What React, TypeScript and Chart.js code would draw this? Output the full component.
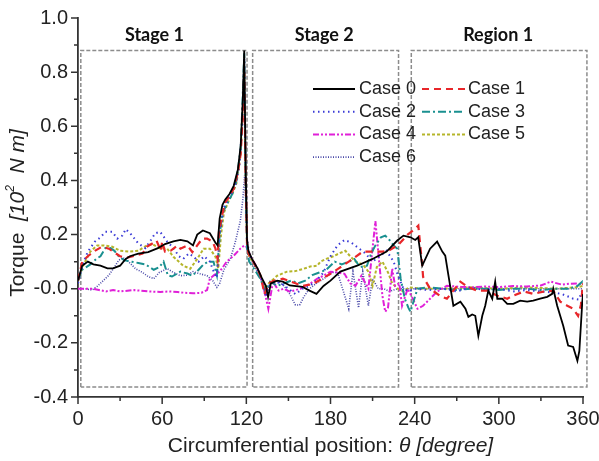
import React, { useEffect, useRef } from 'react';
import { Chart, registerables } from 'chart.js';

Chart.register(...registerables);

// ---------- data (theta in degrees, torque in 10^2 N m) ----------
const case0: [number, number][] = [
  [0, 0.03], [3, 0.085], [7, 0.1], [11, 0.09], [16, 0.085], [21, 0.075], [25, 0.075], [30, 0.085], [34, 0.11],
  [37, 0.12], [43, 0.13], [50, 0.135], [57, 0.15], [62, 0.165], [68, 0.175], [73, 0.18], [78, 0.175], [82, 0.16],
  [85, 0.2], [89, 0.215], [94, 0.205], [98, 0.17], [99.5, 0.16], [101, 0.26], [103, 0.31], [105, 0.33], [108, 0.35],
  [111, 0.38], [114, 0.44], [116, 0.53], [117.5, 0.7], [118.5, 0.88], [119.5, 0.45], [120.5, 0.18], [121.5, 0.14],
  [124, 0.11], [128, 0.075], [131, 0.04], [134, 0.01], [135.5, -0.03], [137.5, 0.02], [142, 0.03], [146, 0.026],
  [151, 0.012], [160, 0.007], [165, -0.007], [170, -0.019], [175, 0.01], [180, 0.03], [187, 0.063], [199, 0.085],
  [210, 0.11], [220, 0.137], [227.6, 0.178], [232, 0.196], [237, 0.19], [240.4, 0.18], [242.5, 0.19], [245.4, 0.085],
  [251, 0.148], [256, 0.174], [259.7, 0.137], [261.8, 0.122], [264.1, 0.048], [267.6, -0.063], [272.6, -0.048],
  [276.2, -0.074], [278.3, -0.104], [281, -0.095], [283.2, -0.1], [285.4, -0.174], [288.2, -0.1], [290.3, -0.063],
  [292.5, -0.007], [295.3, -0.037], [297.4, 0.026], [298.9, -0.037], [302.4, -0.037], [306, -0.056], [310.3, -0.056],
  [315.2, -0.044], [320.2, -0.048], [324.5, -0.044], [329.5, -0.037], [334.5, -0.03], [338, -0.019], [338.8, 0],
  [341.6, -0.063], [345.9, -0.137], [349.4, -0.21], [353, -0.215], [356, -0.266], [357.4, -0.23], [359.5, -0.048],
  [360, -0.02],
];

const case1: [number, number][] = [
  [0, 0.03], [3, 0.1], [7, 0.12], [12, 0.14], [17, 0.155], [22, 0.148], [25, 0.137], [30, 0.12], [35, 0.115],
  [39, 0.12], [46, 0.13], [49, 0.155], [53, 0.167], [56, 0.178], [59, 0.14], [60, 0.174], [62, 0.137], [66, 0.14],
  [71, 0.16], [73, 0.148], [76, 0.155], [78, 0.16], [81.5, 0.135], [85, 0.16], [88.6, 0.185], [92, 0.185], [96, 0.174],
  [98, 0.148], [99.5, 0.11], [100.5, 0.21], [102.6, 0.27], [105, 0.32], [108, 0.34], [111, 0.37], [114, 0.43],
  [116, 0.5], [117.5, 0.65], [118.5, 0.8], [119.5, 0.42], [120.5, 0.17], [121.5, 0.13], [125, 0.1], [130, 0.05],
  [133, -0.02], [136, 0.02], [140, 0.03], [146, 0.037], [150, 0.03], [155, 0.02], [160, 0.01], [165, 0.015],
  [170, 0.025], [175, 0.04], [180, 0.055], [185.6, 0.074], [193, 0.1], [203, 0.137], [210, 0.137], [217, 0.137],
  [221, 0.14], [228, 0.16], [235, 0.2], [240, 0.22], [242.6, 0.233], [245.4, 0.085], [246, 0.044], [251, 0],
  [258, -0.026], [263, -0.037], [272.6, 0.026], [277.5, 0.007], [284.6, -0.007], [291.8, -0.007], [299, -0.026],
  [306, -0.037], [310, -0.026], [318, -0.01], [324.5, -0.019], [331.7, -0.011], [338.8, -0.007], [343.8, -0.048],
  [348.8, -0.063], [353, -0.074], [356.5, -0.1], [358.5, -0.06], [360, 0.02],
];

const case2: [number, number][] = [
  [0, 0.02], [3, 0.085], [7, 0.137], [12, 0.174], [16, 0.19], [19.5, 0.21], [24.5, 0.21], [28, 0.185], [31.6, 0.196],
  [34, 0.22], [38, 0.2], [43, 0.167], [48, 0.15], [52, 0.18], [55, 0.205], [58.6, 0.21], [63.6, 0.174], [68, 0.15],
  [72, 0.12], [75, 0.11], [79, 0.13], [82, 0.12], [86, 0.1], [90, 0.12], [94, 0.1], [97, 0.06], [99, 0.04], [101, 0.2],
  [104, 0.3], [108, 0.34], [112, 0.38], [115, 0.45], [117, 0.6], [118.5, 0.85], [119.5, 0.45], [120.5, 0.18],
  [122, 0.13], [125, 0.1], [129, 0.06], [132, 0.02], [134, -0.03], [136, 0.01], [140, 0.025], [145, 0.02], [150, 0.0],
  [155, -0.02], [160, 0.0], [165, 0.01], [170, 0.03], [175, 0.06], [180, 0.12], [185, 0.16], [190, 0.18], [195, 0.17],
  [200, 0.15], [205, 0.13], [210, 0.1], [215, 0.12], [220, 0.14], [225, 0.1], [228, 0.05], [232, 0.0], [236, -0.01],
  [240, 0.0], [250, -0.005], [260, 0.0], [270, -0.01], [280, 0.005], [290, -0.005], [300, 0.0], [310, -0.01],
  [320, -0.005], [330, -0.01], [340, -0.015], [345, -0.02], [350, -0.03], [353, -0.037], [357, -0.04], [360, 0.0],
];

const case3: [number, number][] = [
  [0, 0.03], [3, 0.07], [8.8, 0.09], [13, 0.11], [16, 0.12], [19.5, 0.15], [23, 0.15], [26, 0.14], [29, 0.12],
  [33, 0.105], [38, 0.1], [43, 0.095], [48, 0.09], [54, 0.07], [58, 0.08], [61, 0.1], [64, 0.05], [67, 0.045],
  [73, 0.063], [78, 0.056], [81.5, 0.048], [86, 0.07], [89.5, 0.09], [93, 0.1], [96.6, 0.1], [99, 0.05], [101, 0.2],
  [103, 0.28], [106, 0.31], [110, 0.35], [113, 0.4], [116, 0.52], [117.5, 0.72], [118.5, 0.87], [119.5, 0.4],
  [120.5, 0.15], [122, 0.1], [126, 0.07], [130, 0.037], [133.6, -0.011], [137, 0.026], [142, 0.011], [147, 0.02],
  [152, 0.03], [157, 0.02], [162, 0.03], [167, 0.05], [172, 0.06], [177, 0.07], [183, 0.1], [188, 0.09], [193, 0.1],
  [197, 0.11], [201, 0.08], [206, 0.085], [209, 0.13], [212, 0.16], [216, 0.19], [219, 0.196], [222, 0.18],
  [225, 0.16], [227.6, 0.148], [230, 0.037], [233, -0.037], [235.5, -0.07], [237, -0.085], [239, -0.05], [242, 0.0],
  [250, 0.005], [260, 0.0], [270, -0.005], [280, 0.0], [290, 0.0], [300, -0.005], [310, 0.0], [320, 0.0],
  [330, -0.005], [340, 0.0], [350, 0.0], [356, 0.01], [359.5, 0.026], [360, 0.02],
];

const case4: [number, number][] = [
  [0, 0.0], [10, 0.0], [15, -0.005], [20, -0.01], [25, -0.005], [30, -0.01], [40, -0.005], [50, -0.01],
  [58.6, -0.012], [65, -0.01], [71, -0.012], [76, -0.015], [82, -0.017], [88, -0.015], [92, -0.005], [94, 0.037],
  [97, 0.05], [101, 0.063], [106, 0.1], [111, 0.122], [115.7, 0.148], [118.5, 0.16], [120, 0.155], [123, 0.12],
  [128, 0.074], [131, 0.03], [133.6, -0.026], [135.7, -0.074], [139, 0.026], [143, -0.007], [146.5, 0.0],
  [151, -0.011], [158.5, 0.0], [165.6, 0.019], [170.6, 0.037], [175, 0.048], [180, 0.063], [185, 0.06], [190, 0.055],
  [194, 0.02], [197.8, 0.011], [202, 0.048], [207, 0.0], [210, 0.15], [212, 0.25], [214, 0.137], [217, -0.026],
  [219, -0.085], [221, -0.07], [224, 0.074], [226, 0.011], [229, 0.02], [231, -0.063], [235, 0.0], [238, -0.03],
  [242, -0.074], [246, -0.063], [251, -0.037], [256, -0.011], [263, 0.011], [272.6, 0.007], [280, 0.005],
  [290, 0.008], [300, 0.006], [310, 0.01], [320, 0.008], [330, 0.012], [337, 0.026], [345, 0.015], [350, 0.018],
  [356, 0.019], [360, 0.015],
];

const case5: [number, number][] = [
  [0, 0.03], [4, 0.09], [8.8, 0.137], [13.7, 0.16], [18, 0.16], [24.5, 0.155], [30, 0.14], [36, 0.137], [43, 0.14],
  [49, 0.16], [53, 0.165], [58, 0.15], [63.6, 0.148], [68, 0.118], [75, 0.085], [80, 0.074], [85, 0.11],
  [89.5, 0.148], [94, 0.148], [98, 0.118], [100, 0.074], [102, 0.2], [104, 0.28], [107, 0.32], [110, 0.35],
  [113, 0.39], [116, 0.5], [117.5, 0.68], [118.5, 0.8], [119.5, 0.4], [120.5, 0.16], [122, 0.12], [126, 0.09],
  [130, 0.05], [133, 0.0], [136, 0.02], [142, 0.048], [149, 0.063], [155, 0.065], [161, 0.074], [165.6, 0.082],
  [170.6, 0.085], [172.8, 0.1], [177, 0.11], [182, 0.12], [186, 0.13], [190.6, 0.14], [194, 0.12], [198, 0.1],
  [203, 0.09], [207, 0.063], [210, 0.011], [213, 0.08], [217, 0.1], [221, 0.06], [224, 0.02], [228, 0.0],
  [232, -0.01], [236, 0.005], [245, 0.0], [260, 0.0], [280, 0.005], [300, 0.0], [320, 0.005], [340, 0.0],
  [355, 0.005], [360, 0.01],
];

const case6: [number, number][] = [
  [0, 0.0], [5, 0.0], [10, -0.005], [14, 0.01], [18, 0.03], [22, 0.05], [26.6, 0.085], [29, 0.105], [32, 0.115],
  [36, 0.1], [41, 0.074], [46, 0.06], [50, 0.045], [54, 0.037], [58, 0.06], [63.6, 0.074], [68, 0.06], [73, 0.048],
  [78, 0.05], [82, 0.063], [87, 0.055], [92, 0.048], [96, 0.03], [99, 0.005], [101, 0.02], [104, 0.07],
  [108.6, 0.11], [112, 0.17], [115.7, 0.25], [117.5, 0.33], [118.8, 0.42], [119.8, 0.3], [120.8, 0.16], [122, 0.12],
  [125, 0.09], [129, 0.05], [132, 0.02], [134, -0.02], [137, 0.02], [142, 0.03], [147, 0.01], [151, -0.02],
  [155, -0.06], [158, -0.06], [161, -0.03], [165, 0.0], [170, 0.02], [176, 0.04], [181, 0.06], [185, 0.06],
  [188, 0.01], [193, -0.074], [196, 0.063], [200, -0.07], [203, 0.063], [207, -0.063], [210, 0.037], [214, 0.0],
  [218, 0.0], [222, -0.01], [228, 0.0], [235, 0.0], [245, 0.0], [260, 0.0], [280, 0.0], [300, 0.0], [320, 0.0],
  [340, 0.0], [360, 0.0],
];

const seriesNames = ['Case 0', 'Case 1', 'Case 2', 'Case 3', 'Case 4', 'Case 5', 'Case 6'];
const seriesData = [case0, case1, case2, case3, case4, case5, case6];

// region boxes (data units)
const boxNames = ['Stage 1', 'Stage 2', 'Region 1'];
const boxLeft = [2, 124.5, 237.6];
const boxRight = [120.5, 228.5, 362.8];
const boxTop = 0.88;
const boxBottom = -0.363;
const boxLabelTheta = [54.5, 175.5, 299.5];
const boxLabelTorque = 0.935;

// axes
const xMin = 0, xMax = 360, xStep = 60;
const xMinorTicks = [30, 90, 150, 210, 270, 330];
const xMajorTicks = [0, 60, 120, 180, 240, 300, 360];
const yMin = -0.4, yMax = 1.0, yStep = 0.2;
const yMajorTicks = [-0.4, -0.2, 0, 0.2, 0.4, 0.6, 0.8, 1.0];
const yMinorTicks = [-0.3, -0.1, 0.1, 0.3, 0.5, 0.7, 0.9];

// ---------- styles ----------
const seriesStyle = [
  { color: '#000000', dash: [] as number[], width: 1.8 },
  { color: '#e8262a', dash: [7, 5], width: 2.2 },
  { color: '#3a3ad6', dash: [1.5, 3.5], width: 2 },
  { color: '#1a9090', dash: [8, 3, 2, 3], width: 2 },
  { color: '#e020d8', dash: [6, 2, 2, 2, 2, 2], width: 2 },
  { color: '#b5b52a', dash: [3, 2], width: 2 },
  { color: '#4848a8', dash: [1, 1.5], width: 1.6 },
];
const AXIS_COLOR = '#333333';
const TEXT_COLOR = '#222222';
const BOX_COLOR = '#8c8c8c';
const SANS = '"Liberation Sans", Arial, sans-serif';

const decorPlugin = {
  id: 'decor',
  afterDraw(chart: any) {
    const { ctx, chartArea, scales } = chart;
    const xs = scales.x;
    const ys = scales.y;
    const L = chartArea.left;
    const B = chartArea.bottom;
    ctx.save();

    // tick marks
    ctx.strokeStyle = AXIS_COLOR;
    ctx.lineWidth = 1.5;
    ctx.setLineDash([]);
    ctx.beginPath();
    yMajorTicks.forEach((v) => { const p = ys.getPixelForValue(v); ctx.moveTo(L - 7, p); ctx.lineTo(L, p); });
    yMinorTicks.forEach((v) => { const p = ys.getPixelForValue(v); ctx.moveTo(L - 4, p); ctx.lineTo(L, p); });
    xMajorTicks.forEach((v) => { const p = xs.getPixelForValue(v); ctx.moveTo(p, B); ctx.lineTo(p, B + 7); });
    xMinorTicks.forEach((v) => { const p = xs.getPixelForValue(v); ctx.moveTo(p, B); ctx.lineTo(p, B + 4); });
    ctx.stroke();

    // box labels
    ctx.fillStyle = '#111';
    ctx.font = 'bold 18px Lato, "Open Sans", sans-serif';
    ctx.textAlign = 'center';
    ctx.textBaseline = 'middle';
    boxNames.forEach((n, i) => {
      ctx.fillText(n, xs.getPixelForValue(boxLabelTheta[i]), ys.getPixelForValue(boxLabelTorque));
    });

    // legend
    ctx.font = `18px ${SANS}`;
    ctx.textAlign = 'left';
    ctx.textBaseline = 'middle';
    const colLineX = [[313, 355], [422, 465]];
    const colTextX = [359, 468];
    seriesNames.forEach((n, i) => {
      const col = i % 2;
      const row = Math.floor(i / 2);
      const y = 89 + row * 22.7;
      const st = seriesStyle[i];
      ctx.strokeStyle = st.color;
      ctx.lineWidth = st.width;
      ctx.setLineDash(st.dash);
      ctx.beginPath();
      ctx.moveTo(colLineX[col][0], y);
      ctx.lineTo(colLineX[col][1], y);
      ctx.stroke();
      ctx.setLineDash([]);
      ctx.fillStyle = TEXT_COLOR;
      ctx.fillText(n, colTextX[col], y);
    });

    // x axis title
    const xParts = [
      { t: 'Circumferential position: ', f: `21px ${SANS}` },
      { t: '\u03b8 [degree]', f: `italic 21px ${SANS}` },
    ];
    let total = 0;
    xParts.forEach((p) => { ctx.font = p.f; total += ctx.measureText(p.t).width; });
    let cx = (chartArea.left + chartArea.right) / 2 - total / 2;
    ctx.fillStyle = TEXT_COLOR;
    ctx.textAlign = 'left';
    ctx.textBaseline = 'middle';
    xParts.forEach((p) => { ctx.font = p.f; ctx.fillText(p.t, cx, 446); cx += ctx.measureText(p.t).width; });

    // y axis title
    ctx.translate(18, 213);
    ctx.rotate(-Math.PI / 2);
    const yParts = [
      { t: 'Torque  ', f: `21px ${SANS}`, dy: 0 },
      { t: '[10', f: `italic 21px ${SANS}`, dy: 0 },
      { t: '2', f: `italic 12px ${SANS}`, dy: -7 },
      { t: '  N m]', f: `italic 21px ${SANS}`, dy: 0 },
    ];
    total = 0;
    yParts.forEach((p) => { ctx.font = p.f; total += ctx.measureText(p.t).width; });
    cx = -total / 2;
    yParts.forEach((p) => { ctx.font = p.f; ctx.fillText(p.t, cx, p.dy); cx += ctx.measureText(p.t).width; });

    ctx.restore();
  },
};

export default function App() {
  const canvasRef = useRef<HTMLCanvasElement | null>(null);

  useEffect(() => {
    if (!canvasRef.current) return;
    const seriesSets = seriesData.map((d, i) => ({
      label: seriesNames[i],
      data: d.map(([x, y]) => ({ x, y })),
      borderColor: seriesStyle[i].color,
      borderWidth: seriesStyle[i].width,
      borderDash: seriesStyle[i].dash,
      pointRadius: 0,
      fill: false,
      tension: 0,
    }));
    const boxSets = boxNames.map((n, i) => ({
      label: n,
      data: [
        { x: boxLeft[i], y: boxBottom },
        { x: boxLeft[i], y: boxTop },
        { x: boxRight[i], y: boxTop },
        { x: boxRight[i], y: boxBottom },
        { x: boxLeft[i], y: boxBottom },
      ],
      borderColor: BOX_COLOR,
      borderWidth: 1.5,
      borderDash: [4, 2],
      pointRadius: 0,
      fill: false,
      tension: 0,
      clip: false,
    }));

    const chart = new Chart(canvasRef.current, {
      type: 'line',
      data: { datasets: [...seriesSets, ...boxSets] as any },
      options: {
        animation: false,
        responsive: false,
        layout: { padding: { top: 18, right: 16, left: 0, bottom: 0 } },
        plugins: { legend: { display: false }, tooltip: { enabled: false } },
        scales: {
          x: {
            type: 'linear',
            min: xMin,
            max: xMax,
            afterFit: (s: any) => { s.height = 64; s.paddingLeft = 0; s.paddingRight = 0; },
            ticks: {
              stepSize: xStep,
              padding: 10,
              color: TEXT_COLOR,
              font: { family: SANS, size: 20 },
              maxRotation: 0,
            },
            grid: { display: false, drawTicks: false },
            border: { display: true, color: AXIS_COLOR, width: 1.8 },
          },
          y: {
            type: 'linear',
            min: yMin,
            max: yMax,
            afterFit: (s: any) => { s.width = 78; s.paddingTop = 0; s.paddingBottom = 0; },
            ticks: {
              stepSize: yStep,
              padding: 10,
              color: TEXT_COLOR,
              font: { family: SANS, size: 20 },
              callback: (v: any) => Number(v).toFixed(1),
            },
            grid: { display: false, drawTicks: false },
            border: { display: true, color: AXIS_COLOR, width: 1.8 },
          },
        },
      },
      plugins: [decorPlugin],
    });
    return () => chart.destroy();
  }, []);

  return (
    <div style={{ position: 'fixed', left: 0, top: 0, width: 599, height: 461, background: '#fff' }}>
      <canvas ref={canvasRef} width={599} height={461} style={{ display: 'block' }} />
    </div>
  );
}
